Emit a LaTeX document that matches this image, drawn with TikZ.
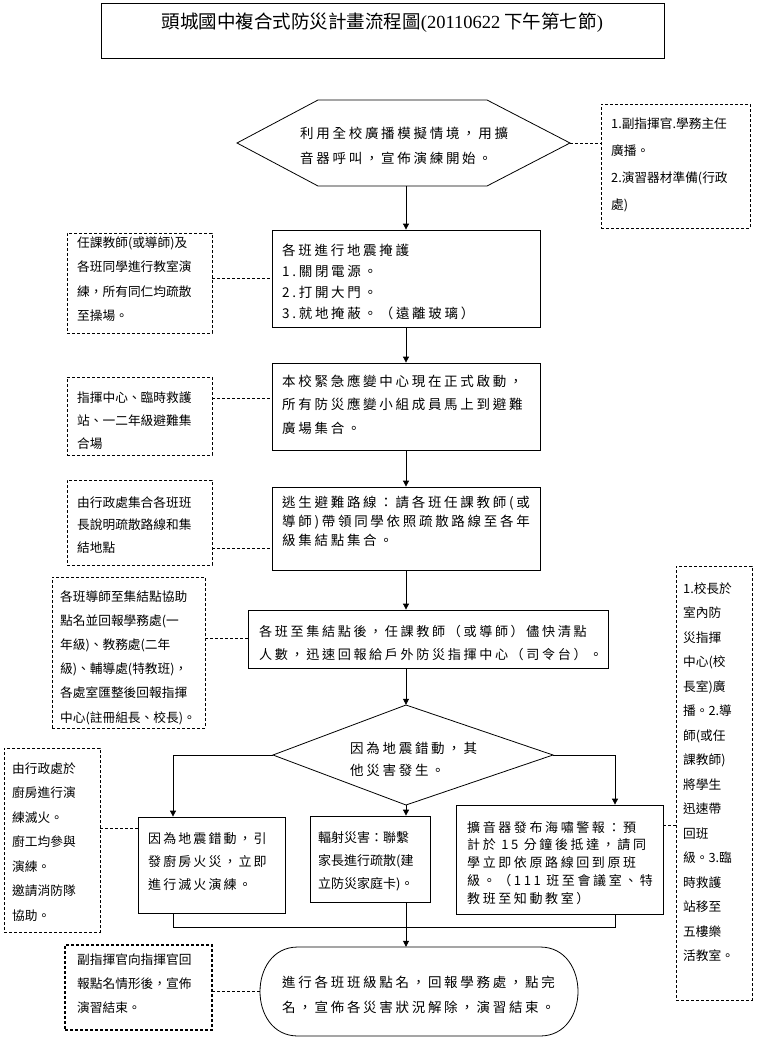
\documentclass[tikz,border=0pt]{standalone}
\usepackage{fontspec}
\setmainfont{Noto Sans CJK TC}
\newfontfamily\lsfont[LetterSpace=20]{Noto Sans CJK TC}
\newfontfamily\lsfontb[LetterSpace=16]{Noto Sans CJK TC}
\newfontfamily\tnr{Liberation Serif}
\usetikzlibrary{fit,arrows.meta,calc}
\begin{document}
\begin{tikzpicture}[x=1pt,y=-1pt,
  box/.style={draw, line width=0.8pt, inner sep=0pt},
  dbox/.style={draw, line width=0.8pt, dash pattern=on 3pt off 2pt, inner sep=0pt},
  dline/.style={line width=0.8pt, dash pattern=on 3pt off 2pt},
  ln/.style={line width=0.8pt},
  arr/.style={line width=0.8pt, -{Triangle[length=6pt,width=6pt]}},
  mt/.style={anchor=base west, inner sep=0pt, align=left, font=\lsfont\fontsize{13.5}{#1}\selectfont},
  mt/.default=21,
  st/.style={anchor=base west, inner sep=0pt, align=left, font=\fontsize{12.7}{#1}\selectfont},
  st/.default=24.5]
\useasboundingbox (0,0) rectangle (761,1049);
\coordinate (ax) at (406,0);
\coordinate (lx) at (173,0);
\coordinate (rx) at (615,0);

% title
\node[box, fit={(101,3) (664,58)}, font=\fontsize{18.5}{22}\selectfont] (title)
  {頭城國中複合式防災計畫流程圖{\tnr(20110622} 下午第七節{\tnr)}};

% start hexagon
\node[fit={(237,100) (570,186)}, inner sep=0pt] (hex) {};
\draw[ln] (237,143) -- (318,100) -- (487,100) -- (570,143) -- (487,186) -- (318,186) -- cycle;
\node[mt=25] (hext) at (300,163) {利用全校廣播模擬情境，用擴\\音器呼叫，宣佈演練開始。};

\node[dbox, fit={(601,104) (750,228)}] (d1) {};
\node[st=26.7] (d1t) at (611,209) {1.副指揮官.學務主任\\廣播。\\2.演習器材準備(行政\\處)};

% box 2
\node[box, fit={(272,230) (540,327)}] (b2) {};
\node[mt=21] (b2t) at (282,318) {各班進行地震掩護\\1.關閉電源。\\2.打開大門。\\3.就地掩蔽。（遠離玻璃）};
\node[dbox, fit={(67,233) (212,333)}] (d2) {};
\node[st=24.5] (d2t) at (77,320.5) {任課教師(或導師)及\\各班同學進行教室演\\練，所有同仁均疏散\\至操場。};

% box 3
\node[box, fit={(272,363) (540,450)}] (b3) {};
\node[mt=23.5] (b3t) at (282,433) {本校緊急應變中心現在正式啟動，\\所有防災應變小組成員馬上到避難\\廣場集合。};
\node[dbox, fit={(67,377) (212,455)}] (d3) {};
\node[st=23] (d3t) at (77,448) {指揮中心、臨時救護\\站、一二年級避難集\\合場};

% box 4
\node[box, fit={(272,487) (540,570)}] (b4) {};
\node[mt=19] (b4t) at (282,545) {逃生避難路線：請各班任課教師(或\\導師)帶領同學依照疏散路線至各年\\級集結點集合。};
\node[dbox, fit={(67,480) (212,565)}] (d4) {};
\node[st=22.5] (d4t) at (77,552) {由行政處集合各班班\\長說明疏散路線和集\\結地點};

% box 5
\node[box, fit={(248,610) (608,668)}] (b5) {};
\node[anchor=base west, inner sep=0pt, align=left, font=\lsfont\fontsize{13.1}{23}\selectfont] (b5t) at (259,659) {各班至集結點後，任課教師（或導師）儘快清點\\人數，迅速回報給戶外防災指揮中心（司令台）。};
\node[dbox, fit={(52,577) (205,728)}] (d5) {};
\node[st=24.2] (d5t) at (60,722) {各班導師至集結點協助\\點名並回報學務處(一\\年級)、教務處(二年\\級)、輔導處(特教班)，\\各處室匯整後回報指揮\\中心(註冊組長、校長)。};

% right dashed box
\node[dbox, fit={(676,566) (752,1000)}] (dR) {};
\node[st=24.5] (dRt) at (683,960.5) {1.校長於\\室內防\\災指揮\\中心(校\\長室)廣\\播。2.導\\師(或任\\課教師)\\將學生\\迅速帶\\回班\\級。3.臨\\時救護\\站移至\\五樓樂\\活教室。};

% diamond
\node[fit={(273,705) (553,805)}, inner sep=0pt] (dia) {};
\draw[ln] (406,705) -- (553,755) -- (406,805) -- (273,755) -- cycle;
\node[mt=22] (diat) at (350,775) {因為地震錯動，其\\他災害發生。};

% three branch boxes
\node[dbox, fit={(4,748) (100,932)}] (d6) {};
\node[st=24.5] (d6t) at (12,920) {由行政處於\\廚房進行演\\練滅火。\\廚工均參與\\演練。\\邀請消防隊\\協助。};
\node[box, fit={(138,817) (285,913)}] (b6) {};
\node[anchor=base west, inner sep=0pt, align=left, font=\lsfontb\fontsize{13}{23}\selectfont] (b6t) at (148,889) {因為地震錯動，引\\發廚房火災，立即\\進行滅火演練。};
\node[box, fit={(310,816) (430,902)}] (b7) {};
\node[anchor=base west, inner sep=0pt, align=left, font=\fontsize{13}{23}\selectfont] (b7t) at (318,888) {輻射災害：聯繫\\家長進行疏散(建\\立防災家庭卡)。};
\node[box, fit={(456,805) (663,914)}] (b8) {};
\node[anchor=base west, inner sep=0pt, align=left, font=\lsfont\fontsize{13}{17.9}\selectfont] (b8t) at (467,903.6) {擴音器發布海嘯警報：預\\計於 15 分鐘後抵達，請同\\學立即依原路線回到原班\\級。（111 班至會議室、特\\教班至知動教室）};

% final terminator
\node[fit={(260,947) (578,1036)}, inner sep=0pt] (fin) {};
\draw[ln] (298,947) -- (540,947) .. controls (566,947) and (578,970) .. (578,991.5) .. controls (578,1013) and (566,1036) .. (540,1036) -- (298,1036) .. controls (272,1036) and (260,1013) .. (260,991.5) .. controls (260,970) and (272,947) .. (298,947);
\node[mt=25] (fint) at (282,1012) {進行各班班級點名，回報學務處，點完\\名，宣佈各災害狀況解除，演習結束。};
\node[draw, line width=1.3pt, dash pattern=on 3pt off 2pt, inner sep=0pt, fit={(65,945) (212,1030)}] (d7) {};
\node[st=24] (d7t) at (77,1012) {副指揮官向指揮官回\\報點名情形後，宣佈\\演習結束。};

% main arrows
\draw[arr] (ax |- hex.south) -- (ax |- b2.north);
\draw[arr] (ax |- b2.south) -- (ax |- b3.north);
\draw[arr] (ax |- b3.south) -- (ax |- b4.north);
\draw[arr] (ax |- b4.south) -- (ax |- b5.north);
\draw[arr] (ax |- b5.south) -- (ax |- dia.north);
\draw[arr] (dia.west) -| (lx |- b6.north);
\draw[arr] (dia.east) -| (rx |- b8.north);
\draw[arr] (ax |- dia.south) -- (ax |- b7.north);
\draw[ln] (lx |- b6.south) |- (rx |- 0,927) -- (rx |- b8.south);
\draw[arr] (ax |- b7.south) -- (ax |- fin.north);

% dashed connectors
\draw[dline] (hex.east) -- (hex.east -| d1.west);
\draw[dline] (d2.east |- 0,278) -- (b2.west |- 0,278);
\draw[dline] (d3.east |- 0,398) -- (b3.west |- 0,398);
\draw[dline] (d4.east |- 0,548) -- (b4.west |- 0,548);
\draw[dline] (d5.east |- 0,638) -- (b5.west |- 0,638);
\draw[dline] (d6.east |- 0,828) -- (b6.west |- 0,828);
\draw[dline] (b8.east |- 0,825) -- (dR.west |- 0,825);
\draw[dline] (fin.west) -- (fin.west -| d7.east);
\end{tikzpicture}
\end{document}
